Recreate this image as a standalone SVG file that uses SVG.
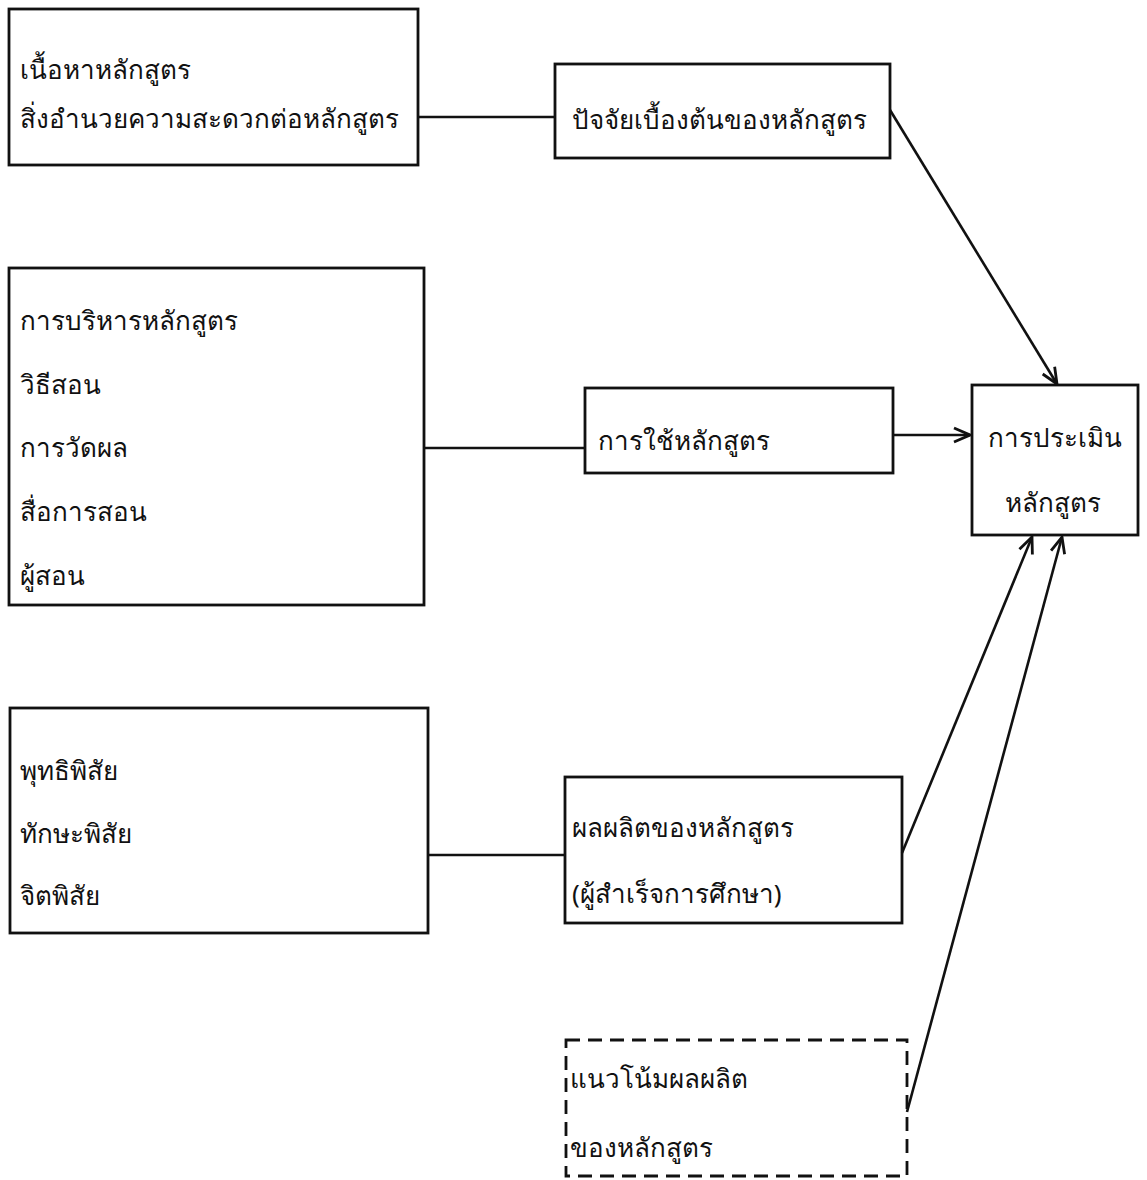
<svg xmlns="http://www.w3.org/2000/svg" width="1147" height="1180" viewBox="0 0 1147 1180">
<style>
.box{fill:none;stroke:#111;stroke-width:2.8}
.dash{fill:none;stroke:#111;stroke-width:2.8;stroke-dasharray:14 8}
.t{font-family:'Noto Sans','DejaVu Sans',sans-serif;font-size:26px;fill:#111}
.c{fill:none;stroke:#111;stroke-width:2.6}
</style>
<defs>
<marker id="ah" viewBox="0 0 20 20" refX="18" refY="10" markerWidth="20" markerHeight="20" markerUnits="userSpaceOnUse" orient="auto">
<path d="M2,3 L18,10 L2,17" fill="none" stroke="#111" stroke-width="2.8"/>
</marker>
</defs>
<rect width="1147" height="1180" fill="#fff"/>
<g id="connectors">
<line class="c" x1="418" y1="117" x2="555" y2="117"/>
<line class="c" x1="424" y1="448" x2="585" y2="448"/>
<line class="c" x1="428" y1="855" x2="565" y2="855"/>
<line class="c" x1="893" y1="435" x2="970" y2="435" marker-end="url(#ah)"/>
<line class="c" x1="890" y1="110" x2="1057" y2="384" marker-end="url(#ah)"/>
<line class="c" x1="902" y1="853" x2="1032" y2="537" marker-end="url(#ah)"/>
<line class="c" x1="907" y1="1112" x2="1062" y2="537" marker-end="url(#ah)"/>
</g>
<g id="n1">
<rect class="box" x="9" y="9" width="409" height="156"/>
<text class="t" x="20" y="79">เนื้อหาหลักสูตร</text>
<text class="t" x="20" y="128">สิ่งอำนวยความสะดวกต่อหลักสูตร</text>
</g>
<g id="n2">
<rect class="box" x="555" y="64" width="335" height="94"/>
<text class="t" x="572" y="129">ปัจจัยเบื้องต้นของหลักสูตร</text>
</g>
<g id="n3">
<rect class="box" x="9" y="268" width="415" height="337"/>
<text class="t" x="20" y="330">การบริหารหลักสูตร</text>
<text class="t" x="20" y="394">วิธีสอน</text>
<text class="t" x="20" y="457">การวัดผล</text>
<text class="t" x="20" y="521">สื่อการสอน</text>
<text class="t" x="20" y="585">ผู้สอน</text>
</g>
<g id="n4">
<rect class="box" x="585" y="388" width="308" height="85"/>
<text class="t" x="598" y="450">การใช้หลักสูตร</text>
</g>
<g id="n5">
<rect class="box" x="972" y="385" width="166" height="150"/>
<text class="t" x="988" y="447">การประเมิน</text>
<text class="t" x="1005" y="512">หลักสูตร</text>
</g>
<g id="n6">
<rect class="box" x="10" y="708" width="418" height="225"/>
<text class="t" x="20" y="780">พุทธิพิสัย</text>
<text class="t" x="20" y="843">ทักษะพิสัย</text>
<text class="t" x="20" y="905">จิตพิสัย</text>
</g>
<g id="n7">
<rect class="box" x="565" y="777" width="337" height="146"/>
<text class="t" x="572" y="837">ผลผลิตของหลักสูตร</text>
<text class="t" x="572" y="903">(ผู้สำเร็จการศึกษา)</text>
</g>
<g id="n8">
<rect class="dash" x="566" y="1040" width="341" height="136"/>
<text class="t" x="570" y="1088">แนวโน้มผลผลิต</text>
<text class="t" x="570" y="1157">ของหลักสูตร</text>
</g>
</svg>
